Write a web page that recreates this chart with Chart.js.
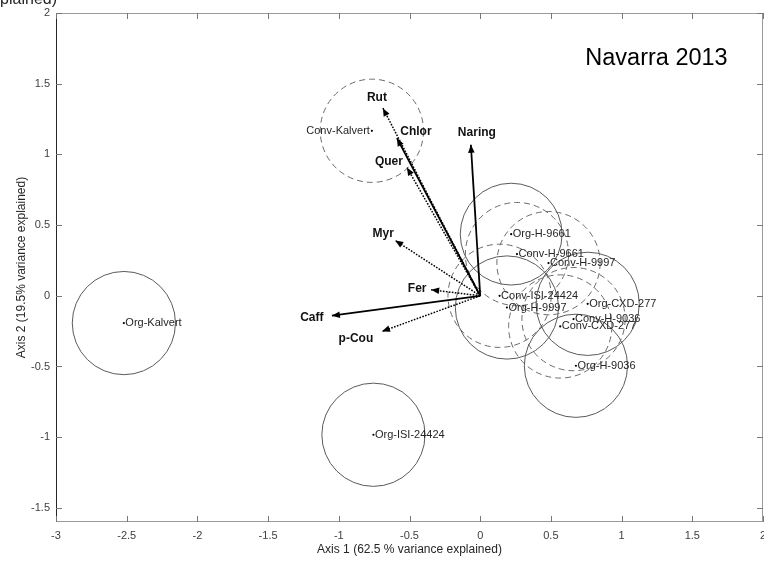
<!DOCTYPE html>
<html>
<head>
<meta charset="utf-8">
<script src="https://cdn.jsdelivr.net/npm/chart.js@4.4.1/dist/chart.umd.min.js"></script>
<style>
  html, body { margin: 0; padding: 0; background: #fff; }
  canvas { display: block; }
</style>
</head>
<body>
<canvas id="biplot" width="764" height="563"></canvas>
<script>
// Sample scores on the first two axes
const sampleNames = ['Org-Kalvert', 'Conv-Kalvert', 'Org-ISI-24424', 'Conv-ISI-24424',
  'Org-H-9661', 'Conv-H-9661', 'Org-H-9997', 'Conv-H-9997',
  'Org-CXD-277', 'Conv-CXD-277', 'Org-H-9036', 'Conv-H-9036'];
const sampleX = [-2.52, -0.766, -0.755, 0.137, 0.219, 0.26, 0.189, 0.483, 0.76, 0.566, 0.677, 0.66];
const sampleY = [-0.193, 1.167, -0.983, 0.0, 0.436, 0.295, -0.083, 0.231, -0.057, -0.217, -0.495, -0.165];
// Confidence circle radius per sample (axis units)
const sampleRadius = [0.365, 0.365, 0.365, 0.365, 0.36, 0.365, 0.365, 0.365, 0.365, 0.365, 0.365, 0.365];

// Variable loadings (arrows from the origin)
const variableNames = ['Rut', 'Chlor', 'Quer', 'Naring', 'Myr', 'Fer', 'Caff', 'p-Cou'];
const loadingX = [-0.688, -0.589, -0.518, -0.066, -0.601, -0.347, -1.049, -0.695];
const loadingY = [1.327, 1.115, 0.907, 1.068, 0.391, 0.042, -0.141, -0.252];

// Axis limits and tick step
const xLimits = [-3, 2];
const yLimits = [-1.6, 2];
const tickStep = 0.5;

// ---- styling / layout ----
const FONT = "'Liberation Sans', Arial, Helvetica, sans-serif";
const solidArrows = new Set(['Chlor', 'Naring', 'Caff']);
const labelOnLeft = new Set(['Conv-Kalvert']);
// pixel offsets of arrow labels from the arrow tips
const arrowLabelOffset = {
  'Rut': [-6, -10], 'Chlor': [19, -6], 'Quer': [-18, -6], 'Naring': [6, -12],
  'Myr': [-12, -7], 'Fer': [-14, -1], 'Caff': [-20, 2], 'p-Cou': [-26, 7]
};

const arrowDatasets = variableNames.map((name, i) => {
  const solid = solidArrows.has(name);
  return {
    label: name,
    data: [{ x: 0, y: 0 }, { x: loadingX[i], y: loadingY[i] }],
    showLine: true,
    borderColor: '#000',
    borderWidth: solid ? 1.8 : 1.5,
    borderDash: solid ? [] : [1.6, 1.4],
    pointRadius: 0,
    fill: false
  };
});

const sampleDataset = {
  label: 'samples',
  data: sampleNames.map((n, i) => ({ x: sampleX[i], y: sampleY[i] })),
  pointRadius: 1.1,
  pointBackgroundColor: '#000',
  pointBorderWidth: 0,
  showLine: false
};

const fmt = v => String(Math.round(v * 10) / 10);

const biplotPlugin = {
  id: 'biplot',
  beforeDatasetsDraw(chart) {
    const { ctx, scales: { x, y } } = chart;
    ctx.save();
    sampleNames.forEach((name, i) => {
      const cx = x.getPixelForValue(sampleX[i]);
      const cy = y.getPixelForValue(sampleY[i]);
      const r = x.getPixelForValue(sampleRadius[i]) - x.getPixelForValue(0);
      const conv = name.startsWith('Conv');
      ctx.beginPath();
      ctx.setLineDash(conv ? [6, 4] : []);
      ctx.strokeStyle = conv ? '#6a6a6a' : '#5a5a5a';
      ctx.lineWidth = 1;
      ctx.arc(cx, cy, r, 0, Math.PI * 2);
      ctx.stroke();
    });
    ctx.restore();
  },
  afterDatasetsDraw(chart) {
    const { ctx, scales: { x, y } } = chart;
    ctx.save();
    ctx.setLineDash([]);
    // arrowheads and variable labels
    const ox = x.getPixelForValue(0), oy = y.getPixelForValue(0);
    variableNames.forEach((name, i) => {
      const tx = x.getPixelForValue(loadingX[i]);
      const ty = y.getPixelForValue(loadingY[i]);
      const ang = Math.atan2(ty - oy, tx - ox);
      const len = 8, hw = 3.3;
      const bx = tx - len * Math.cos(ang), by = ty - len * Math.sin(ang);
      ctx.beginPath();
      ctx.moveTo(tx, ty);
      ctx.lineTo(bx + hw * Math.sin(ang), by - hw * Math.cos(ang));
      ctx.lineTo(bx - hw * Math.sin(ang), by + hw * Math.cos(ang));
      ctx.closePath();
      ctx.fillStyle = '#000';
      ctx.fill();
      const off = arrowLabelOffset[name];
      ctx.font = 'bold 12px ' + FONT;
      ctx.textAlign = 'center';
      ctx.textBaseline = 'middle';
      ctx.fillStyle = '#111';
      ctx.fillText(name, tx + off[0], ty + off[1]);
    });
    // sample labels
    ctx.font = '11px ' + FONT;
    ctx.fillStyle = '#262626';
    ctx.textBaseline = 'middle';
    sampleNames.forEach((name, i) => {
      const px = x.getPixelForValue(sampleX[i]);
      const py = y.getPixelForValue(sampleY[i]);
      if (labelOnLeft.has(name)) {
        ctx.textAlign = 'right';
        ctx.fillText(name, px - 2, py);
      } else {
        ctx.textAlign = 'left';
        ctx.fillText(name, px + 1.5, py);
      }
    });
    ctx.restore();
  },
  afterDraw(chart) {
    const { ctx, chartArea: a, scales: { x, y } } = chart;
    ctx.save();
    // axes box
    ctx.lineWidth = 1;
    ctx.strokeStyle = '#9a9a9a';
    ctx.beginPath();
    ctx.moveTo(a.left, a.top + 0.5); ctx.lineTo(a.right, a.top + 0.5);
    ctx.moveTo(a.left, a.bottom - 0.5); ctx.lineTo(a.right, a.bottom - 0.5);
    ctx.moveTo(a.right - 0.5, a.top); ctx.lineTo(a.right - 0.5, a.bottom);
    ctx.stroke();
    ctx.strokeStyle = '#262626';
    ctx.beginPath();
    ctx.moveTo(a.left + 0.5, a.top); ctx.lineTo(a.left + 0.5, a.bottom);
    ctx.stroke();
    // inward tick marks
    const tl = 6;
    ctx.strokeStyle = '#777';
    ctx.beginPath();
    x.ticks.forEach(t => {
      const px = Math.round(x.getPixelForValue(t.value)) + 0.5;
      ctx.moveTo(px, a.bottom); ctx.lineTo(px, a.bottom - tl);
      ctx.moveTo(px, a.top); ctx.lineTo(px, a.top + tl);
    });
    y.ticks.forEach(t => {
      const py = Math.round(y.getPixelForValue(t.value)) + 0.5;
      ctx.moveTo(a.left, py); ctx.lineTo(a.left + tl, py);
      ctx.moveTo(a.right, py); ctx.lineTo(a.right - tl, py);
    });
    ctx.stroke();
    // x tick labels (drawn here so the last one may run off the canvas edge)
    ctx.fillStyle = '#404040';
    ctx.font = '11px ' + FONT;
    ctx.textAlign = 'center';
    ctx.textBaseline = 'middle';
    x.ticks.forEach(t => {
      ctx.fillText(fmt(t.value), x.getPixelForValue(t.value), a.bottom + 14);
    });
    // axis titles
    ctx.fillStyle = '#262626';
    ctx.font = '12px ' + FONT;
    ctx.fillText('Axis 1 (62.5 % variance explained)', (a.left + a.right) / 2, 550);
    ctx.save();
    ctx.translate(22, (a.top + a.bottom) / 2);
    ctx.rotate(-Math.PI / 2);
    ctx.fillText('Axis 2 (19.5% variance explained)', 0, 0);
    ctx.restore();
    // neighbouring panel's title, mostly outside the canvas
    ctx.font = '16px ' + FONT;
    ctx.textAlign = 'right';
    ctx.textBaseline = 'alphabetic';
    ctx.fillText('Axis 2 (variance explained)', 57, 4);
    // panel heading
    ctx.font = '23.5px ' + FONT;
    ctx.fillStyle = '#000';
    ctx.textAlign = 'center';
    ctx.fillText('Navarra 2013', a.right - 106.5, a.top + 52);
    ctx.restore();
  }
};

new Chart(document.getElementById('biplot'), {
  type: 'scatter',
  data: { datasets: [...arrowDatasets, sampleDataset] },
  options: {
    responsive: false,
    animation: false,
    devicePixelRatio: 1,
    layout: { autoPadding: false, padding: { top: 13, right: 1, left: 0, bottom: 0 } },
    plugins: { legend: { display: false }, tooltip: { enabled: false } },
    scales: {
      x: {
        type: 'linear', position: 'bottom', min: xLimits[0], max: xLimits[1],
        ticks: { stepSize: tickStep, includeBounds: false, autoSkip: false, display: false },
        grid: { display: false, drawTicks: false },
        border: { display: false },
        afterFit(s) { s.height = 41; s.paddingLeft = 0; s.paddingRight = 0; }
      },
      y: {
        type: 'linear', position: 'left', min: yLimits[0], max: yLimits[1],
        ticks: { stepSize: tickStep, includeBounds: false, autoSkip: false,
          color: '#404040', font: { family: FONT, size: 11 }, padding: 6, callback: fmt },
        grid: { display: false, drawTicks: false },
        border: { display: false },
        afterFit(s) { s.width = 56; s.paddingTop = 0; s.paddingBottom = 0; }
      }
    }
  },
  plugins: [biplotPlugin]
});
</script>
</body>
</html>
